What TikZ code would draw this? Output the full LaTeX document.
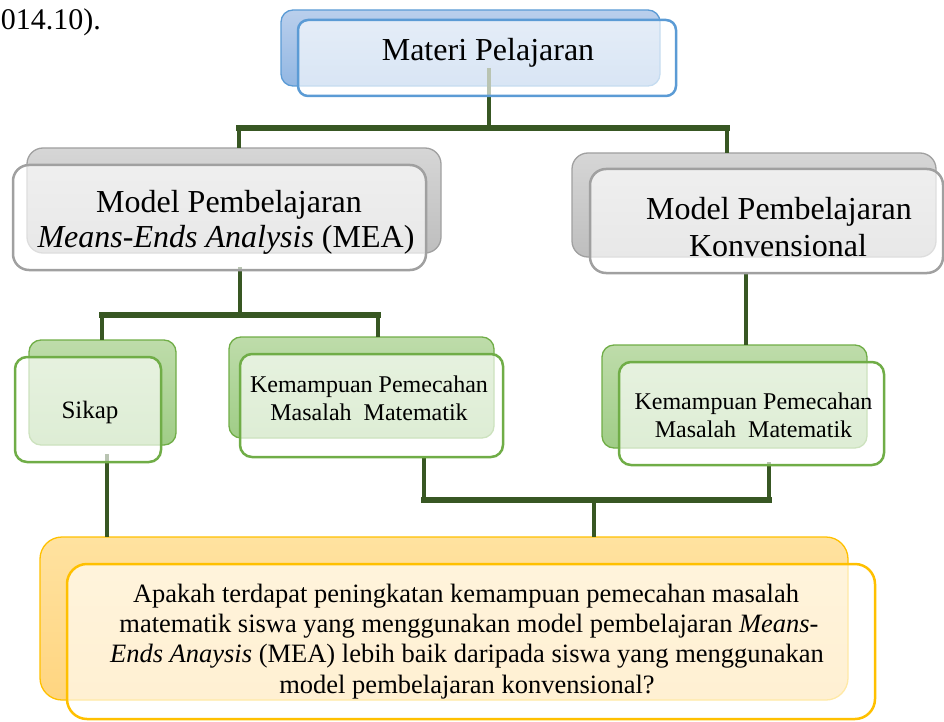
\documentclass[tikz,border=0pt]{standalone}
\usepackage{fontspec}
\setmainfont{Liberation Serif}
\pgfdeclarelayer{backl}
\pgfdeclarelayer{frontl}
\pgfsetlayers{backl,main,frontl}
\definecolor{blueT}{RGB}{186,207,236}
\definecolor{blueB}{RGB}{146,183,227}
\definecolor{blueD}{RGB}{91,155,213}
\definecolor{grayT}{RGB}{214,214,214}
\definecolor{grayB}{RGB}{190,190,190}
\definecolor{grayD}{RGB}{160,160,160}
\definecolor{greenT}{RGB}{190,220,170}
\definecolor{greenB}{RGB}{160,205,135}
\definecolor{greenD}{RGB}{112,173,71}
\definecolor{orangeT}{RGB}{255,226,160}
\definecolor{orangeB}{RGB}{255,213,128}
\definecolor{orangeD}{RGB}{255,192,0}
\definecolor{lineG}{RGB}{56,87,35}
\newcommand\fs[1]{\fontsize{#1}{#1}\selectfont}
\begin{document}
\begin{tikzpicture}[x=1pt,y=-1pt,
  bk/.style={draw=#1D, line width=1.3pt, top color=#1T, bottom color=#1B, rounded corners=12pt, inner sep=0pt, outer sep=0pt},
  fr/.style={draw=#1D, line width=2.5pt, fill=white, fill opacity=0.65, draw opacity=1, rounded corners=12pt, inner sep=0pt, outer sep=0pt},
  txt/.style={inner sep=0pt, outer sep=0pt, anchor=base},
  conn/.style={draw=lineG, line width=4pt},
  bar/.style={draw=lineG, line width=5.5pt, line cap=rect}]
\useasboundingbox (0,0) rectangle (944,722);

\node[txt, anchor=base west, font=\fs{30}] (ref) at (1,30) {014.10).};

% back boxes
\begin{pgfonlayer}{backl}
\node[bk=blue, minimum width=379pt, minimum height=76pt] (matB) at (470.5,48) {};
\node[bk=gray, minimum width=414pt, minimum height=105pt, rounded corners=16pt] (meaB) at (234,200.5) {};
\node[bk=gray, minimum width=364pt, minimum height=104pt, rounded corners=16pt] (konB) at (754,205) {};
\node[bk=green, minimum width=147pt, minimum height=105pt] (sikB) at (102.5,392.5) {};
\node[bk=green, minimum width=265pt, minimum height=101pt] (k1B) at (361.5,387.5) {};
\node[bk=green, minimum width=265pt, minimum height=103pt] (k2B) at (734.5,396.5) {};
\node[bk=orange, minimum width=808pt, minimum height=163pt, rounded corners=22pt] (qB) at (444,618.5) {};
\end{pgfonlayer}

% front boxes and texts
\begin{pgfonlayer}{frontl}
\node[fr=blue, minimum width=378pt, minimum height=76pt, rounded corners=10pt] (matF) at (487,58) {};
\node[fr=gray, minimum width=413pt, minimum height=105pt, rounded corners=16pt] (meaF) at (219.5,217.5) {};
\node[fr=gray, minimum width=353pt, minimum height=104pt, rounded corners=16pt] (konF) at (766.5,221) {};
\node[fr=green, minimum width=146pt, minimum height=105pt] (sikF) at (88,409.5) {};
\node[fr=green, minimum width=263pt, minimum height=103pt] (k1F) at (371.5,405.5) {};
\node[fr=green, minimum width=265pt, minimum height=103pt] (k2F) at (751.5,413.5) {};
\node[fr=orange, minimum width=808pt, minimum height=155pt, rounded corners=20pt] (qF) at (471,641.5) {};

\node[txt, font=\fs{32}] (mat) at (488,61) {Materi Pelajaran};
\node[txt, font=\fs{32}] (mea1) at (229,212) {Model Pembelajaran};
\node[txt, font=\fs{32}] (mea2) at (226,247) {\textit{Means-Ends Analysis} (MEA)};
\node[txt, font=\fs{32}] (kon1) at (779,219) {Model Pembelajaran};
\node[txt, font=\fs{32}] (kon2) at (778,256) {Konvensional};
\node[txt, font=\fs{25}] (sik) at (90,418) {Sikap};
\node[txt, font=\fs{24}] (k1a) at (369,392) {Kemampuan Pemecahan};
\node[txt, font=\fs{24}] (k1b) at (369,420.5) {Masalah\ \ Matematik};
\node[txt, font=\fs{24}] (k2a) at (753.5,409) {Kemampuan Pemecahan};
\node[txt, font=\fs{24}] (k2b) at (753.5,437) {Masalah\ \ Matematik};
\node[txt, font=\fs{26.5}] (q1) at (466,602.5) {Apakah terdapat peningkatan kemampuan pemecahan masalah};
\node[txt, font=\fs{26.5}] (q2) at (469,632) {matematik siswa yang menggunakan model pembelajaran \textit{Means-}};
\node[txt, font=\fs{26.5}] (q3) at (467,662.5) {\textit{Ends Anaysis} (MEA) lebih baik daripada siswa yang menggunakan};
\node[txt, font=\fs{26.5}] (q4) at (467,693) {model pembelajaran konvensional?};
\end{pgfonlayer}

% connectors
\coordinate (jT) at (489,128);
\coordinate (jL) at (239,128);
\coordinate (jR) at (727,128);
\draw[conn] (jT |- mat.south) -- (jT);
\draw[bar] (jL) -- (jR);
\draw[conn] (jL) -- (jL |- meaB.north);
\draw[conn] (jR) -- (jR |- konB.north);

\coordinate (jM) at (240,315);
\coordinate (jS) at (102,315);
\coordinate (jK) at (378,315);
\draw[conn] ([yshift=3pt]jM |- meaF.south) -- (jM);
\draw[bar] (jS) -- (jK);
\draw[conn] (jS) -- (jS |- sikB.north);
\draw[conn] (jK) -- (jK |- k1B.north);

\coordinate (jV) at (746,300);
\draw[conn] (jV |- konF.south) -- (jV |- k2B.north);

\coordinate (jb1) at (424,500);
\coordinate (jb2) at (769,500);
\coordinate (jb3) at (594,500);
\coordinate (js) at (107,500);
\draw[conn] (jb1 |- k1F.south) -- ([yshift=-3pt]jb1);
\draw[conn] ([yshift=3pt]jb2 |- k2F.south) -- ([yshift=-3pt]jb2);
\draw[bar] (jb1) -- (jb2);
\draw[conn] (jb3) -- (jb3 |- qB.north);
\draw[conn] ([yshift=8pt]js |- sikF.south) -- (js |- qB.north);
\end{tikzpicture}
\end{document}
